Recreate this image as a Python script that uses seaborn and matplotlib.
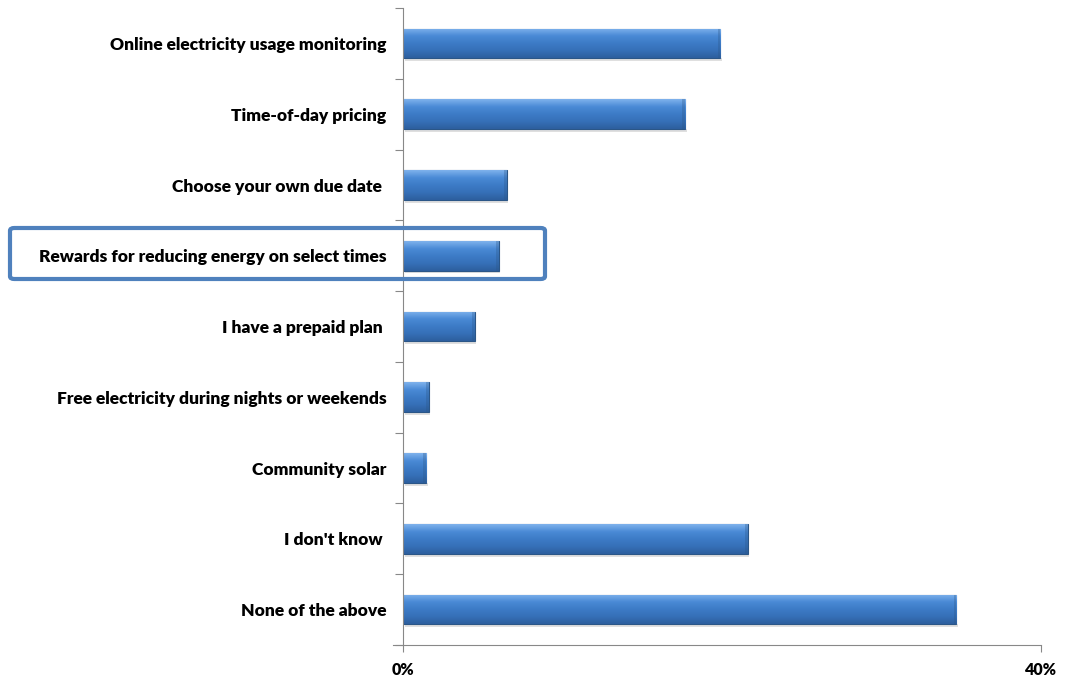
import numpy as np
import pandas as pd
import matplotlib
matplotlib.use("Agg")
import matplotlib.pyplot as plt
import seaborn as sns
from matplotlib.patches import FancyBboxPatch
from matplotlib.colors import LinearSegmentedColormap

categories = [
    "Online electricity usage monitoring",
    "Time-of-day pricing",
    "Choose your own due date ",
    "Rewards for reducing energy on select times",
    "I have a prepaid plan ",
    "Free electricity during nights or weekends",
    "Community solar",
    "I don't know ",
    "None of the above",
]
values = [19.9, 17.7, 6.5, 6.0, 4.5, 1.6, 1.45, 21.6, 34.7]
xtick_values = [0, 40]
xtick_labels = ["0%", "40%"]

sns.set_theme(style="white")
plt.rcParams["font.family"] = ["Lato", "DejaVu Sans"]

df = pd.DataFrame({"cat": categories, "val": values})

fig = plt.figure(figsize=(10.73, 6.77), dpi=100)
ax = fig.add_axes([0.3756, 0.0473, 0.5946, 0.9407])

sns.barplot(data=df, x="val", y="cat", orient="h", color="#3f7dc8",
            width=0.42, ax=ax, edgecolor="#2b5687", linewidth=0.8, saturation=1)

# gradient fill on bars
cmap = LinearSegmentedColormap.from_list(
    "bev", ["#7fb2ec", "#4a8ad6", "#3d7bc6", "#3670b8", "#2d5f9e"])
grad = np.linspace(0, 1, 64).reshape(-1, 1)
for p in list(ax.patches):
    x0, y0 = p.get_x(), p.get_y()
    w, h = p.get_width(), p.get_height()
    im = ax.imshow(grad, cmap=cmap, aspect="auto",
                   extent=[x0, x0 + w, y0 + h, y0], zorder=p.get_zorder() + 0.1,
                   interpolation="bicubic")
    im.set_clip_path(p)
    # subtle bevel at right end
    ax.add_patch(plt.Rectangle((x0 + w - 0.18, y0), 0.18, h, color="#2b5687",
                               alpha=0.3, zorder=p.get_zorder() + 0.2, lw=0))
    # soft shadow
    ax.add_patch(plt.Rectangle((x0 + 0.1, y0 + h), w, 0.04, color="#c0c0c0",
                               alpha=0.5, zorder=p.get_zorder() - 0.1, lw=0))

ax.set_xlim(0, 40)
ax.set_ylim(8.5, -0.5)
ax.set_xlabel("")
ax.set_ylabel("")
ax.set_xticks(xtick_values)
ax.set_xticklabels(xtick_labels, fontsize=11.5, fontweight="heavy", color="black")
ax.set_yticks(np.arange(len(categories)))
ax.set_yticklabels(categories, fontsize=12.5, fontweight="heavy", color="black")
ax.tick_params(axis="y", length=0, pad=12)
ax.tick_params(axis="x", length=5, width=0.8, color="#888888", pad=7, direction="out", bottom=True)

# minor ticks between categories on y axis
ax.set_yticks(np.arange(-0.5, len(categories) + 0.5, 1), minor=True)
ax.tick_params(axis="y", which="minor", length=6, width=0.8, color="#888888", left=True)

for s in ["top", "right"]:
    ax.spines[s].set_visible(False)
ax.spines["left"].set_color("#888888")
ax.spines["bottom"].set_color("#888888")
ax.spines["left"].set_linewidth(0.8)
ax.spines["bottom"].set_linewidth(0.8)
ax.spines["bottom"].set_bounds(-0.6, 40)

# highlight box
box = FancyBboxPatch((10 / 1073, 1 - 279 / 677), 535 / 1073, 51 / 677,
                     boxstyle="round,pad=0,rounding_size=0.004",
                     transform=fig.transFigure, fill=False,
                     edgecolor="#4f81bd", linewidth=3, zorder=10)
fig.patches.append(box)

fig.savefig("out.png", dpi=100, facecolor="white")
